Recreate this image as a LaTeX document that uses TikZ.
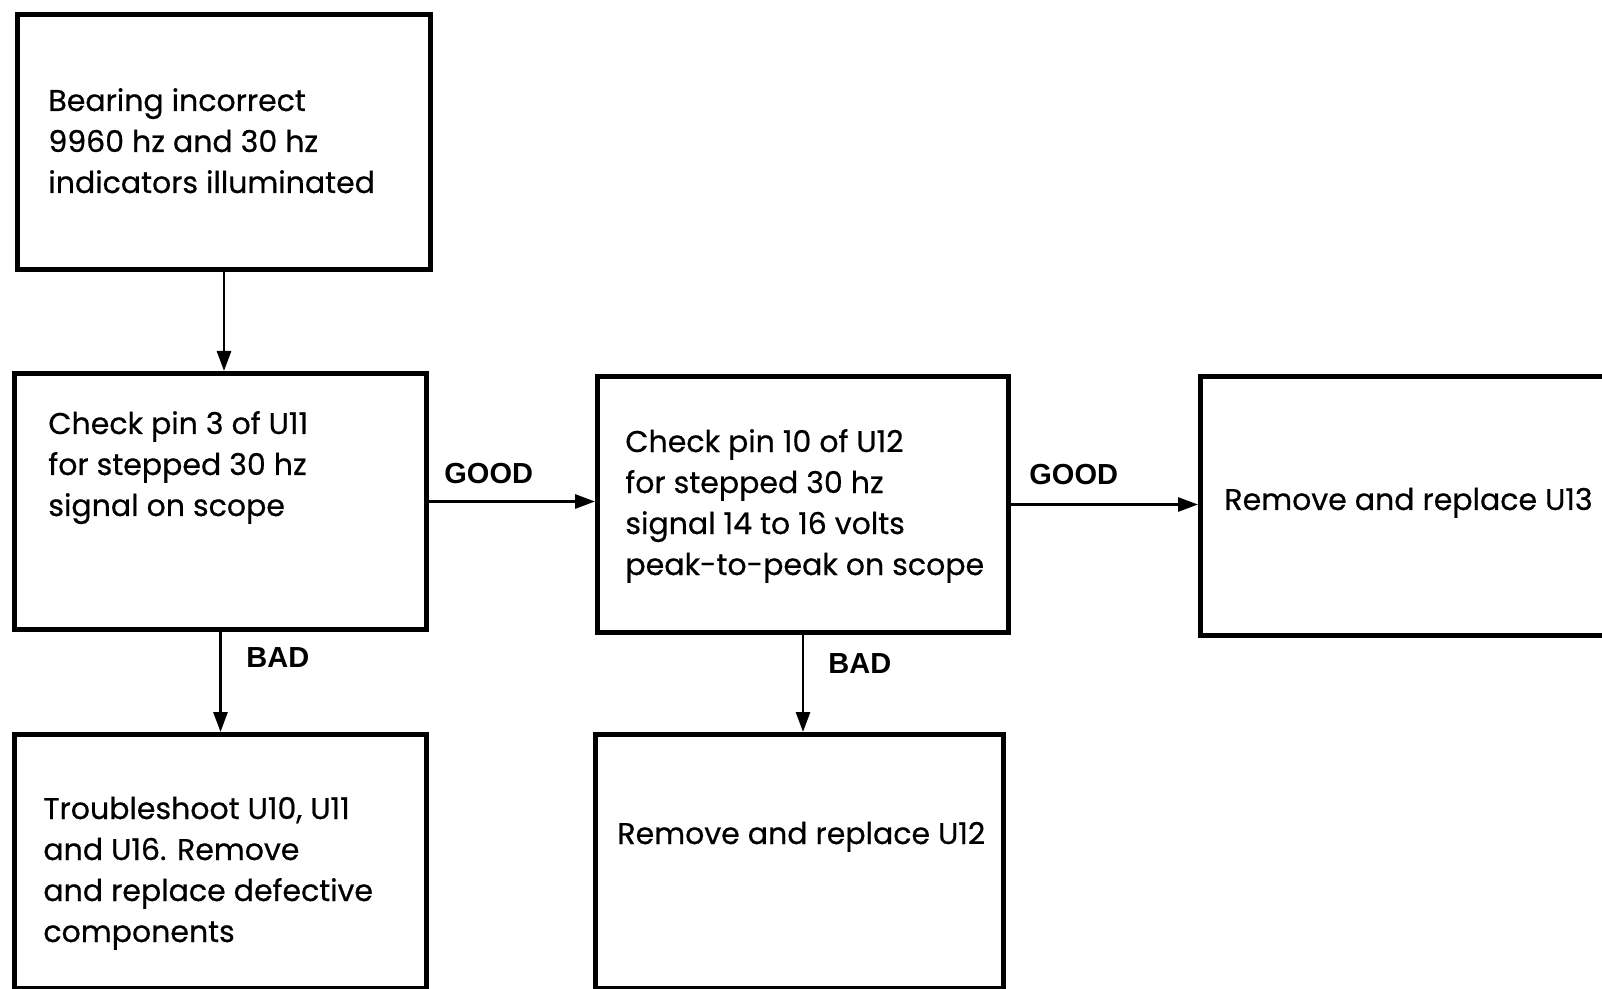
\documentclass[tikz,border=0pt]{standalone}
\usepackage{fontspec}
\setmainfont{Poppins}[FakeBold=0.6]
\newfontfamily\labelfont{Liberation Sans}
\usetikzlibrary{arrows.meta}

\begin{document}
\begin{tikzpicture}[x=0.5pt,y=-0.5pt,
  box/.style={draw,line width=2.5pt,rectangle,inner sep=0pt,anchor=north west},
  % multi-line texts are placed by the baseline of their last line
  txt/.style={anchor=base west,align=left,inner sep=0pt,font=\fontsize{15}{20.5}\selectfont},
  lbl/.style={anchor=base west,inner sep=0pt,font=\labelfont\bfseries\fontsize{14.5}{16}\selectfont},
  flow/.style={line width=1.4pt,-{Triangle[length=10pt,width=7pt]}}]
\useasboundingbox (0,0) rectangle (1602,989);
\clip (0,0) rectangle (1602,989);

% boxes of the troubleshooting chart
\node[box,minimum width=206.5pt,minimum height=127.5pt] (b1) at (15,12) {};
\node[box,minimum width=206pt,minimum height=128pt] (b2) at (12,371) {};
\node[box,minimum width=205.5pt,minimum height=128pt] (b3) at (595,374) {};
\node[box,minimum width=211pt,minimum height=129.5pt] (b4) at (1198,374) {};
\node[box,minimum width=206pt,minimum height=127pt] (b5) at (12,732) {};
\node[box,minimum width=204pt,minimum height=127pt] (b6) at (593,732) {};

% box texts
\node[txt] (t1) at (48,193) {Bearing incorrect\\9960 hz and 30 hz\\indicators illuminated};
\node[txt] (t2) at (48,516) {Check pin 3 of U11\\for stepped 30 hz\\signal on scope};
\node[txt] (t3) at (625,575) {Check pin 10 of U12\\for stepped 30 hz\\signal 14 to 16 volts\\peak-to-peak on scope};
\node[txt] (t4) at (1224,510) {Remove and replace U13};
\node[txt] (t5) at (43,942) {Troubleshoot U10, U11\\and U16. Remove\\and replace defective\\components};
\node[txt] (t6) at (617,844) {Remove and replace U12};

% connectors
\draw[flow] (b1.south) -- (b1.south |- b2.north);
\draw[flow] (b2.east) -- (b2.east -| b3.west);
\draw[flow] (b3.east) -- (b3.east -| b4.west);
\draw[flow] (b2.south) -- (b2.south |- b5.north);
\draw[flow] (b3.south) -- (b3.south |- b6.north);

% branch labels
\node[lbl] (g1) at (444,484) {GOOD};
\node[lbl] (g2) at (1029,485) {GOOD};
\node[lbl] (x1) at (246,668) {BAD};
\node[lbl] (x2) at (828,673) {BAD};
\end{tikzpicture}
\end{document}
